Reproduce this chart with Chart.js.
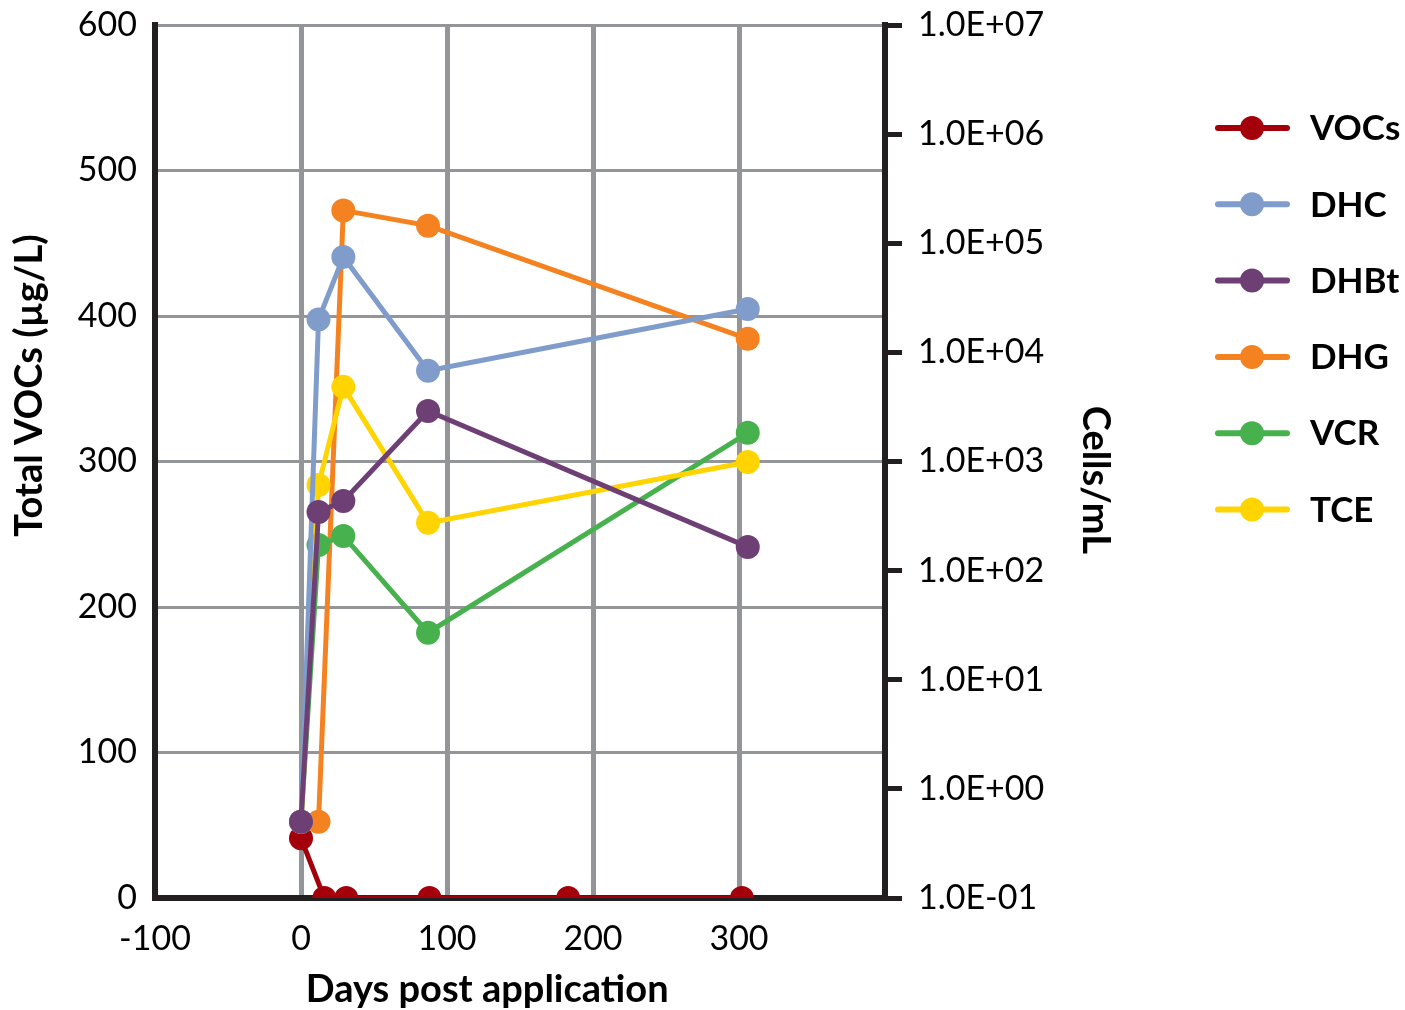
<!DOCTYPE html>
<html>
<head>
<meta charset="utf-8">
<title>Days post application</title>
<script src="https://cdn.jsdelivr.net/npm/chart.js@4.4.0/dist/chart.umd.min.js"></script>
<style>
html,body{margin:0;padding:0;background:#fff}
#grafico{display:block}
</style>
</head>
<body>
<canvas id="grafico" width="1405" height="1010"></canvas>
<script>
// dados
const diasVOC = [0, 16, 31, 88, 183, 302]
const totalVOC = [41, 0, 0, 0, 0, 0]
const diasCel = [0, 12, 29, 87, 306]
const diasDHG = [12, 29, 87, 306]
const celDHC = [0.5, 2.0e4, 7.5e4, 6.8e3, 2.5e4]
const celDHBt = [0.5, 345, 435, 2900, 165]
const celDHG = [0.5, 2.0e5, 1.45e5, 1.33e4]
const celVCR = [0.5, 172, 208, 27, 1830]
const celTCE = [0.5, 610, 4830, 274, 990]

const ticksX = [-100, 0, 100, 200, 300, 400]
const ticksVOC = [0, 100, 200, 300, 400, 500, 600]
const ticksCel = [1e-1, 1e0, 1e1, 1e2, 1e3, 1e4, 1e5, 1e6, 1e7]

const nomes = ["VOCs", "DHC", "DHBt", "DHG", "VCR", "TCE"]
const cores = ["#a3000b", "#7f9ccb", "#6e3f74", "#f58220", "#47b14e", "#ffd400"]
const ordemDesenho = [5, 1, 0, 4, 3, 2]

const CINZA = "#939598"
const PRETO = "#231f20"
const fonte = "Lato"

const pares = (xs, ys) => xs.map((x, i) => ({x: x, y: ys[i]}))

const series = [
    pares(diasVOC, totalVOC),
    pares(diasCel, celDHC),
    pares(diasCel, celDHBt),
    pares(diasDHG, celDHG),
    pares(diasCel, celVCR),
    pares(diasCel, celTCE)
]

const formatoE = v => {
    const e = Math.round(Math.log10(v))
    return "1.0E" + (e < 0 ? "-" : "+") + String(Math.abs(e)).padStart(2, "0")
}

const semPadding = s => {
    s.paddingTop = 0
    s.paddingBottom = 0
    s.paddingLeft = 0
    s.paddingRight = 0
}

// titulos dos eixos e legenda desenhados a mao
const extras = {
    id: "extras",
    afterDraw(chart) {
        const ctx = chart.ctx
        const a = chart.chartArea
        ctx.save()
        ctx.fillStyle = "#000"
        ctx.textBaseline = "middle"
        ctx.textAlign = "center"
        ctx.font = "bold 38px " + fonte
        ctx.fillText("Days post application", a.left + 0.455 * (a.right - a.left), 990)

        ctx.save()
        ctx.translate(30, a.top + 0.413 * (a.bottom - a.top))
        ctx.rotate(-Math.PI / 2)
        ctx.fillText("Total VOCs (\u00b5g/L)", 0, 0)
        ctx.restore()

        ctx.save()
        ctx.translate(1095, a.top + 0.521 * (a.bottom - a.top))
        ctx.rotate(Math.PI / 2)
        ctx.fillText("Cells/mL", 0, 0)
        ctx.restore()

        // legenda
        const x0 = a.right + 330
        chart.data.datasets.forEach((ds, i) => {
            const y = 128 + i * 76.3
            ctx.strokeStyle = ds.borderColor
            ctx.lineWidth = 6
            ctx.lineCap = "round"
            ctx.beginPath()
            ctx.moveTo(x0 + 3, y)
            ctx.lineTo(x0 + 72, y)
            ctx.stroke()
            ctx.fillStyle = ds.borderColor
            ctx.beginPath()
            ctx.arc(x0 + 37, y, 12, 0, Math.PI * 2)
            ctx.fill()
            ctx.fillStyle = "#000"
            ctx.textAlign = "left"
            ctx.font = "bold 35px " + fonte
            ctx.fillText(ds.label, x0 + 95, y + 1)
        })
        ctx.restore()
    }
}

const datasets = nomes.map((nome, i) => ({
    label: nome,
    data: series[i],
    yAxisID: i === 0 ? "y" : "y2",
    borderColor: cores[i],
    backgroundColor: cores[i],
    borderWidth: 5,
    pointRadius: 12,
    pointHoverRadius: 12,
    pointBorderWidth: 0,
    pointBackgroundColor: cores[i],
    tension: 0,
    order: ordemDesenho[i]
}))

const tickFont = {family: fonte, size: 34}

new Chart(document.getElementById("grafico"), {
    type: "line",
    data: {datasets: datasets},
    options: {
        responsive: false,
        animation: false,
        devicePixelRatio: 1,
        layout: {padding: {left: 10, top: 25, right: 280, bottom: 10}},
        plugins: {legend: {display: false}, tooltip: {enabled: false}},
        scales: {
            x: {
                type: "linear",
                min: -100,
                max: 400,
                afterBuildTicks: s => { s.ticks = ticksX.map(v => ({value: v})) },
                ticks: {
                    color: "#000",
                    font: tickFont,
                    padding: 21,
                    maxRotation: 0,
                    callback: v => v === 400 ? "" : String(v)
                },
                grid: {
                    color: c => (c.tick && (c.tick.value === -100 || c.tick.value === 400)) ? "rgba(0,0,0,0)" : CINZA,
                    lineWidth: 5,
                    drawTicks: false
                },
                border: {color: PRETO, width: 6},
                afterFit: s => { s.height = 102; semPadding(s) }
            },
            y: {
                position: "left",
                min: 0,
                max: 600,
                afterBuildTicks: s => { s.ticks = ticksVOC.map(v => ({value: v})) },
                ticks: {color: "#000", font: tickFont, padding: 18},
                grid: {
                    color: c => (c.tick && c.tick.value === 0) ? "rgba(0,0,0,0)" : CINZA,
                    lineWidth: 3,
                    drawTicks: false
                },
                border: {color: PRETO, width: 6},
                afterFit: s => { s.width = 145; semPadding(s) }
            },
            y2: {
                type: "logarithmic",
                position: "right",
                min: 0.1,
                max: 1e7,
                afterBuildTicks: s => { s.ticks = ticksCel.map(v => ({value: v})) },
                ticks: {color: "#000", font: tickFont, padding: 16, callback: v => formatoE(v)},
                grid: {
                    drawOnChartArea: false,
                    tickLength: 17,
                    tickWidth: 5,
                    tickColor: PRETO
                },
                border: {color: PRETO, width: 6},
                afterFit: s => { s.width = 240; semPadding(s) }
            }
        }
    },
    plugins: [extras]
})
</script>
</body>
</html>
